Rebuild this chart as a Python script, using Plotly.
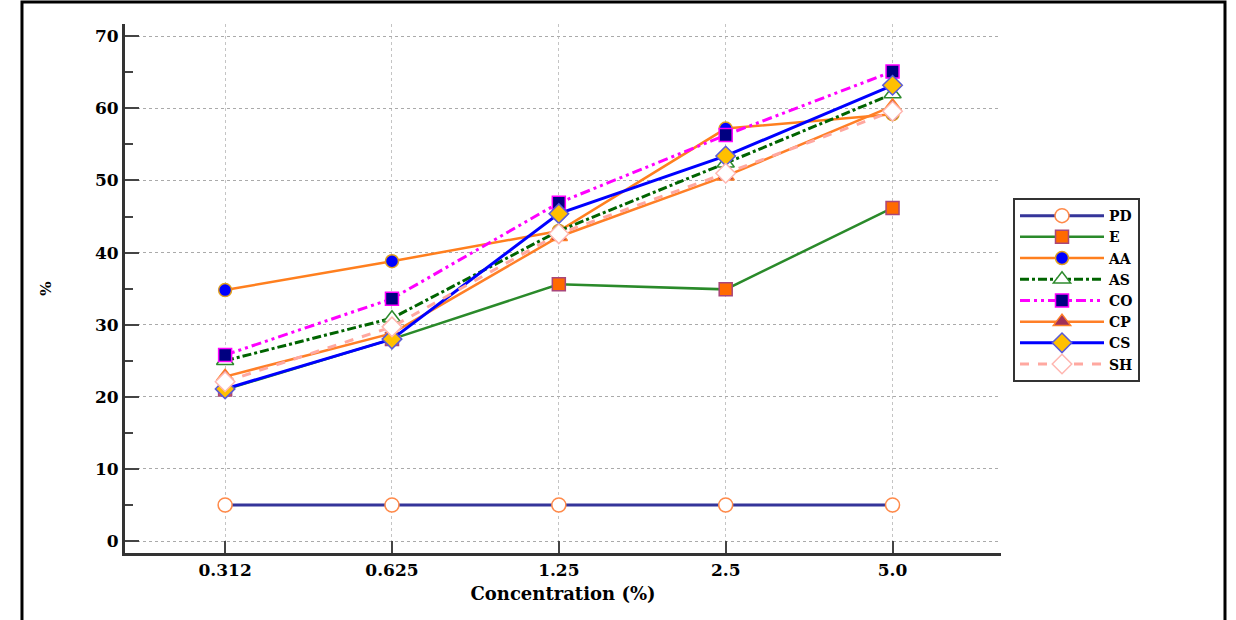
import plotly.graph_objects as go

categories = ["0.312", "0.625", "1.25", "2.5", "5.0"]

PD = [5.0, 5.0, 5.0, 5.0, 5.0]
E = [21.0, 28.0, 35.6, 34.9, 46.2]
AA = [34.8, 38.8, 43.0, 57.2, 59.2]
AS = [25.0, 30.9, 43.0, 52.4, 62.0]
CO = [25.8, 33.6, 46.9, 56.3, 65.1]
CP = [22.8, 28.8, 42.2, 50.6, 60.3]
CS = [21.1, 28.0, 45.4, 53.4, 63.2]
SH = [22.1, 29.7, 42.6, 51.0, 59.6]

y_ticks = [0, 10, 20, 30, 40, 50, 60, 70]

FONT = "DejaVu Serif"

series = [
    ("PD", PD, dict(color="#35359a", width=3, dash="solid"),
     dict(symbol="circle", size=14, color="white", line=dict(color="#ff8a4a", width=1.5))),
    ("E", E, dict(color="#2a8a2a", width=2.5, dash="solid"),
     dict(symbol="square", size=13, color="#ff6a00", line=dict(color="#a8467a", width=1.5))),
    ("AA", AA, dict(color="#ff7f1e", width=2.5, dash="solid"),
     dict(symbol="circle", size=13, color="#0000ff", line=dict(color="#e0a020", width=1.5))),
    ("AS", AS, dict(color="#006400", width=3, dash="dashdot"),
     dict(symbol="triangle-up", size=15, color="white", line=dict(color="#2e8b2e", width=1.5))),
    ("CO", CO, dict(color="#ff00ff", width=3, dash="10px,4px,3px,4px,3px,4px"),
     dict(symbol="square", size=13, color="#000080", line=dict(color="#ff00ff", width=1.5))),
    ("CP", CP, dict(color="#ff7f27", width=2.5, dash="solid"),
     dict(symbol="triangle-up", size=15, color="#a0305a", line=dict(color="#ff7f27", width=1.5))),
    ("CS", CS, dict(color="#0000ff", width=3, dash="solid"),
     dict(symbol="diamond", size=15, color="#ffc000", line=dict(color="#5a5ad8", width=1.5))),
    ("SH", SH, dict(color="#ffa8a0", width=3, dash="dash"),
     dict(symbol="diamond", size=15, color="white", line=dict(color="#ffb6b0", width=1.5))),
]

fig = go.Figure()
for name, vals, line, marker in series:
    fig.add_trace(go.Scatter(
        x=categories, y=vals, name=name, mode="lines+markers",
        line=line, marker=marker,
    ))

fig.update_layout(
    width=1236, height=620,
    margin=dict(l=125, r=235, t=24, b=67),
    paper_bgcolor="white", plot_bgcolor="white",
    font=dict(family=FONT, size=16, color="black"),
    showlegend=True,
    legend=dict(
        x=1.0137, y=0.671, xanchor="left", yanchor="top",
        bordercolor="#333333", borderwidth=2, bgcolor="white",
        font=dict(family=FONT, size=14, color="black", weight="bold"),
        itemwidth=84,
    ),
    xaxis=dict(
        type="category", range=[-0.6, 4.65],
        showline=True, linecolor="#333333", linewidth=3,
        ticks="inside", ticklen=12, tickwidth=2, tickcolor="#444444",
        showgrid=True, gridcolor="#c4c4c4", griddash="dot", gridwidth=1,
        tickfont=dict(family=FONT, size=17, weight="bold"),
        title=dict(text="Concentration (%)", font=dict(family=FONT, size=18, weight="bold"), standoff=8),
        zeroline=False,
    ),
    yaxis=dict(
        range=[-1.66, 71.7],
        tickvals=y_ticks,
        showline=True, linecolor="#333333", linewidth=3,
        ticks="inside", ticklen=14, tickwidth=2, tickcolor="#444444",
        minor=dict(dtick=5, ticks="inside", ticklen=8, tickwidth=2, tickcolor="#444444", showgrid=False),
        showgrid=True, gridcolor="#aaaaaa", griddash="dot", gridwidth=1,
        tickfont=dict(family=FONT, size=17, weight="bold"),
        title=dict(text="%", font=dict(family=FONT, size=15, weight="bold"), standoff=40),
        zeroline=False,
    ),
    shapes=[dict(
        type="rect", xref="paper", yref="paper",
        x0=-0.1176, x1=1.2557, y0=-0.16, y1=1.0416,
        line=dict(color="black", width=3), fillcolor="rgba(0,0,0,0)", layer="above",
    )],
)

fig.write_html("out.html", config={"displayModeBar": False},
               post_script="document.body.style.margin='0';")
